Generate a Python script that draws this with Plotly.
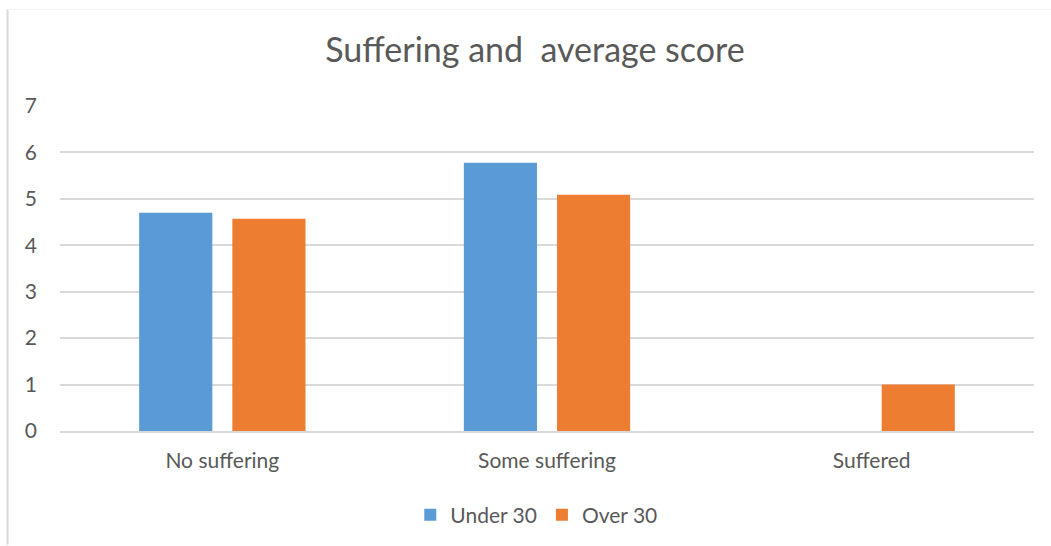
import plotly.graph_objects as go

categories = ["No suffering", "Some suffering", "Suffered"]
under_30 = [4.7, 5.78, 0]
over_30 = [4.57, 5.09, 1.0]
series_names = ["Under 30", "Over 30"]
y_ticks = [0, 1, 2, 3, 4, 5, 6, 7]

BLUE = "#5B9BD5"
ORANGE = "#ED7D31"
TEXT = "#595959"
GRID = "#D9D9D9"
FONT = "Lato, Carlito, 'Open Sans', sans-serif"

fig = go.Figure()
fig.add_trace(go.Bar(x=categories, y=under_30, name=series_names[0], marker_color=BLUE,
                     marker_line_width=0))
fig.add_trace(go.Bar(x=categories, y=over_30, name=series_names[1], marker_color=ORANGE,
                     marker_line_width=0))

fig.update_layout(
    width=1051, height=546,
    margin=dict(l=60, r=17, t=106, b=114),
    paper_bgcolor="white", plot_bgcolor="white",
    barmode="group", bargap=0.426, bargroupgap=0.215,
    font=dict(family=FONT, color=TEXT, size=21),
    title=dict(text="Suffering and  average score", x=0.509, xanchor="center",
               y=0.908, yanchor="middle", font=dict(size=34, color=TEXT, family=FONT)),
    legend=dict(orientation="h", x=0.489, xanchor="center", y=-0.255, yanchor="middle",
                font=dict(size=21, color=TEXT), itemwidth=30, traceorder="normal"),
    xaxis=dict(showgrid=False, showline=True, linecolor=GRID, linewidth=2,
               ticks="", ticklabelstandoff=10, tickfont=dict(size=21, color=TEXT)),
    yaxis=dict(range=[0, 7], tickvals=y_ticks, showgrid=True, gridcolor=GRID, gridwidth=2,
               zeroline=False, showline=False, ticks="", ticklabelstandoff=22,
               tickfont=dict(size=21, color=TEXT)),
    shapes=[
        dict(type="line", xref="paper", yref="paper", x0=-0.0539, x1=-0.0539, y0=-0.35, y1=1.2975,
             line=dict(color=GRID, width=2)),
        dict(type="line", xref="paper", yref="paper", x0=-0.0539, x1=1.02, y0=1.2975, y1=1.2975,
             line=dict(color="#F2F2F2", width=1)),
    ],
)

fig.write_html("out.html")
